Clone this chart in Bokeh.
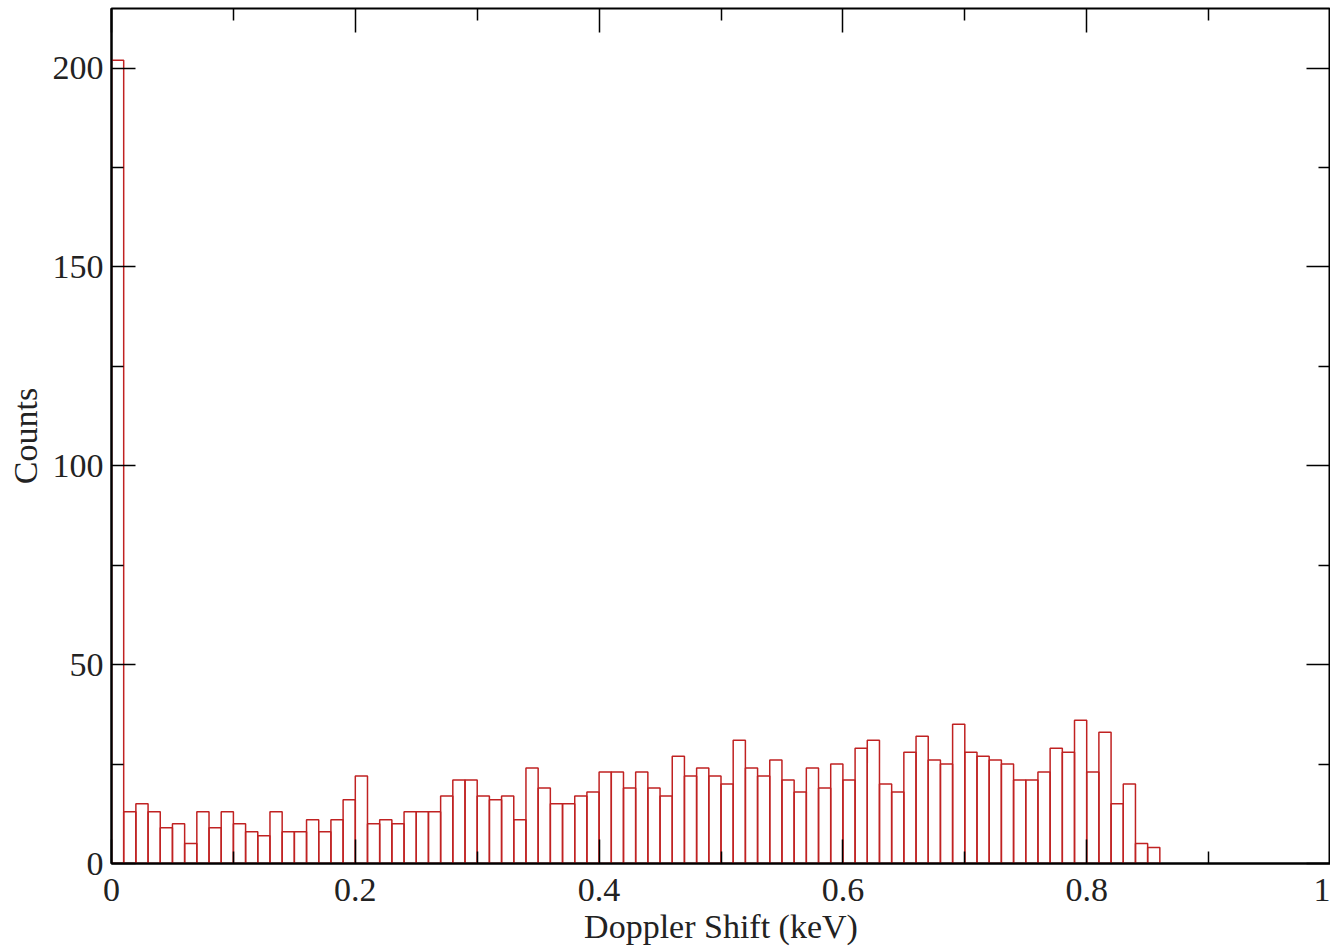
import numpy as np
from bokeh.plotting import figure
from bokeh.models import LinearAxis, Range1d, FixedTicker, ColumnDataSource
from bokeh.embed import file_html
from bokeh.resources import INLINE

# Histogram: counts per 0.01 keV bin, starting at 0 keV
bin_width = 0.01
counts = [202, 13, 15, 13, 9, 10, 5, 13, 9, 13,
          10, 8, 7, 13, 8, 8, 11, 8, 11, 16,
          22, 10, 11, 10, 13, 13, 13, 17, 21, 21,
          17, 16, 17, 11, 24, 19, 15, 15, 17, 18,
          23, 23, 19, 23, 19, 17, 27, 22, 24, 22,
          20, 31, 24, 22, 26, 21, 18, 24, 19, 25,
          21, 29, 31, 20, 18, 28, 32, 26, 25, 35,
          28, 27, 26, 25, 21, 21, 23, 29, 28, 36,
          23, 33, 15, 20, 5, 4]
x_ticks = [0, 0.2, 0.4, 0.6, 0.8, 1]
x_minor = [0.1, 0.3, 0.5, 0.7, 0.9]
x_tick_labels = {0: "0", 0.2: "0.2", 0.4: "0.4", 0.6: "0.6", 0.8: "0.8", 1: "1"}
y_ticks = [0, 50, 100, 150, 200]
y_minor = [25, 75, 125, 175]

left = np.arange(len(counts)) * bin_width
src = ColumnDataSource(dict(left=left, right=left + bin_width, top=counts,
                            bottom=[0] * len(counts)))

FONT = "Liberation Serif"
FS = "34px"

p = figure(width=1330, height=947, output_backend="svg", toolbar_location=None,
           x_range=Range1d(0, 1), y_range=Range1d(0, 215),
           min_border_left=111, min_border_right=0, min_border_top=8,
           min_border_bottom=82, x_axis_type=None, y_axis_type=None)
p.grid.visible = False
p.outline_line_color = "black"
p.outline_line_width = 2
p.background_fill_color = "white"
p.border_fill_color = "white"

p.quad(left="left", right="right", top="top", bottom="bottom", source=src,
       fill_color=None, line_color="#c02222", line_width=1.5)

def style(ax, labels=True):
    ax.major_tick_in = 24
    ax.major_tick_out = 0
    ax.minor_tick_in = 12
    ax.minor_tick_out = 0
    ax.axis_line_color = "black"
    ax.axis_line_width = 2
    ax.major_tick_line_width = 1.5
    ax.minor_tick_line_width = 1.5
    ax.major_label_text_font = FONT
    ax.major_label_text_font_size = FS
    ax.major_label_text_color = "#222222"
    ax.axis_label_text_font = FONT
    ax.axis_label_text_font_size = FS
    ax.axis_label_text_font_style = "normal"
    ax.axis_label_text_color = "#222222"
    if not labels:
        ax.major_label_text_font_size = "0px"
        ax.major_label_standoff = 0
        ax.axis_line_color = None

xb = LinearAxis(ticker=FixedTicker(ticks=x_ticks, minor_ticks=x_minor),
                axis_label="Doppler Shift (keV)")
style(xb)
xb.major_label_overrides = x_tick_labels
xb.major_label_standoff = 15
xb.axis_label_standoff = 4
p.add_layout(xb, "below")

yl = LinearAxis(ticker=FixedTicker(ticks=y_ticks, minor_ticks=y_minor),
                axis_label="Counts")
style(yl)
yl.major_label_standoff = 8
yl.axis_label_standoff = 6
p.add_layout(yl, "left")

xt = LinearAxis(ticker=FixedTicker(ticks=x_ticks, minor_ticks=x_minor))
style(xt, labels=False)
xt.major_label_overrides = {t: "" for t in x_ticks}
p.add_layout(xt, "above")

yr = LinearAxis(ticker=FixedTicker(ticks=y_ticks, minor_ticks=y_minor))
style(yr, labels=False)
yr.major_label_overrides = {t: "" for t in y_ticks}
p.add_layout(yr, "right")

open("out.html", "w").write(file_html(p, INLINE))
